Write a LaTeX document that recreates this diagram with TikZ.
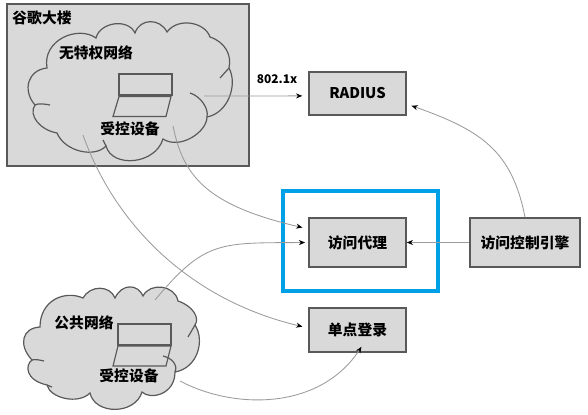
\documentclass[tikz,border=0pt]{standalone}
\usepackage{fontspec}
\setmainfont{Noto Sans CJK SC}
\usetikzlibrary{arrows.meta}
\definecolor{boxgray}{HTML}{D9D9D9}
\definecolor{edgegray}{HTML}{595959}
\definecolor{wiregray}{HTML}{9A9A9A}
\definecolor{proxyblue}{HTML}{00A0E6}
\tikzset{
  server/.style={draw=edgegray, fill=boxgray, line width=1.1pt, font=\bfseries\fontsize{10.5}{12}\selectfont,
    minimum width=24.2mm, inner sep=0pt},
  label/.style={font=\bfseries\fontsize{10.5}{12}\selectfont, inner sep=0pt},
  cloudline/.style={draw=edgegray, line width=0.85pt},
  laptop/.style={draw=edgegray, line width=0.85pt},
  wire/.style={wiregray, line width=0.6pt, ->, shorten >=1.5mm}
}
\begin{document}
\begin{tikzpicture}[x=0.25mm, y=-0.25mm, >={Stealth[black, length=4.5pt, width=3.6pt]}]
    \useasboundingbox (0,0) rectangle (588,414);

    % Gebaeude
    \draw[draw=edgegray, fill=boxgray, line width=1.1pt] (7,4) rectangle (249,166);
    \node[label] (building) at (42,18) {谷歌大楼};

    % Wolke oben
    \path[cloudline, fill=boxgray] (47,68) .. controls (42,40) and (78,25) .. (96,38)
      .. controls (100,22) and (128,18) .. (135,33)
      .. controls (140,18) and (160,18) .. (167,32)
      .. controls (178,17) and (205,22) .. (210,37)
      .. controls (225,42) and (232,55) .. (229,68)
      .. controls (238,85) and (228,113) .. (207,117)
      .. controls (207,132) and (180,150) .. (163,139)
      .. controls (155,165) and (112,168) .. (106,146)
      .. controls (95,158) and (65,152) .. (57,133)
      .. controls (40,130) and (28,115) .. (35,105)
      .. controls (22,90) and (28,70) .. (47,68) -- cycle;
    \draw[cloudline] (229,68) -- (220,78);
    \draw[cloudline] (190,93) .. controls (200,96) and (209,108) .. (207,117);
    \draw[cloudline] (106,146) -- (103,140);
    \draw[cloudline] (35,105) .. controls (38,103) and (45,104) .. (50,105);
    \node[label] (netA) at (96,53) {无特权网络};
    \draw[laptop] (119,74) rectangle (172,95);
    \draw[laptop] (119,96.5) -- (171,96.5) -- (166,116.5) -- (113,116.5) -- cycle;
    \node[label] (deviceA) at (130,129) {受控设备};

    % Wolke unten
    \path[cloudline, fill=boxgray] (40,327) .. controls (40,300) and (65,290) .. (83,298)
      .. controls (90,285) and (110,285) .. (115,298)
      .. controls (122,283) and (138,284) .. (143,296)
      .. controls (150,282) and (175,285) .. (178,301)
      .. controls (193,306) and (200,318) .. (195,325)
      .. controls (205,340) and (198,368) .. (175,372)
      .. controls (175,395) and (150,400) .. (142,392)
      .. controls (135,415) and (95,415) .. (90,393)
      .. controls (78,405) and (50,398) .. (47,385)
      .. controls (25,380) and (25,365) .. (32,360)
      .. controls (18,345) and (22,328) .. (40,327) -- cycle;
    \draw[cloudline] (195,325) -- (188,337);
    \draw[cloudline] (163,356) .. controls (172,358) and (178,365) .. (175,372);
    \draw[cloudline] (47,385) -- (52,387);
    \draw[cloudline] (32,360) .. controls (35,359) and (40,360) .. (44,361);
    \node[label] (netB) at (84,323) {公共网络};
    \draw[laptop] (118,324) rectangle (171,345);
    \draw[laptop] (118,346) -- (171,346) -- (166,366) -- (113,366) -- cycle;
    \node[label] (deviceB) at (129,376) {受控设备};

    % Dienste
    \node[server, minimum height=10.7mm] (radius) at (357.5,93.5) {RADIUS};
    \node[server, minimum height=12.2mm] (proxy) at (357.5,242.5) {访问代理};
    \node[server, minimum height=11mm] (sso) at (357.5,330) {单点登录};
    \node[server, minimum width=27.5mm, minimum height=12.2mm] (engine) at (525,242.5) {访问控制引擎};
    \draw[proxyblue, line width=1mm] (283,191) rectangle (438,291);

    % Verbindungen
    \coordinate (outA) at (204,96);
    \coordinate (outB) at (173,126);
    \coordinate (outC) at (83,135);
    \coordinate (outD) at (155,300);
    \coordinate (outE) at (180,381);
    \draw[wire] (outA) -- ([yshift=-0.6mm]radius.west);
    \node[font=\bfseries\fontsize{8.5}{10}\selectfont, inner sep=0pt] (dotx) at (277,79) {802.1x};
    \draw[wire] (outB) .. controls (183,175) and (205,205) .. ([yshift=3.4mm]proxy.west);
    \draw[wire] (outC) .. controls (115,225) and (190,300) .. ([yshift=0.5mm]sso.west);
    \draw[wire, shorten >=0.8mm] (outD) .. controls (205,240) and (220,243) .. (proxy.west);
    \draw[wire, shorten >=0pt] (outE) .. controls (235,410) and (320,410) .. ([xshift=1mm,yshift=1.5mm]sso.south);
    \draw[wire, shorten >=0pt] (engine) -- (proxy);
    \draw[wire, shorten >=0pt] (engine.north) .. controls (512,150) and (480,130) .. ([xshift=1.2mm,yshift=2.5mm]radius.south east);
  \end{tikzpicture}
\end{document}
